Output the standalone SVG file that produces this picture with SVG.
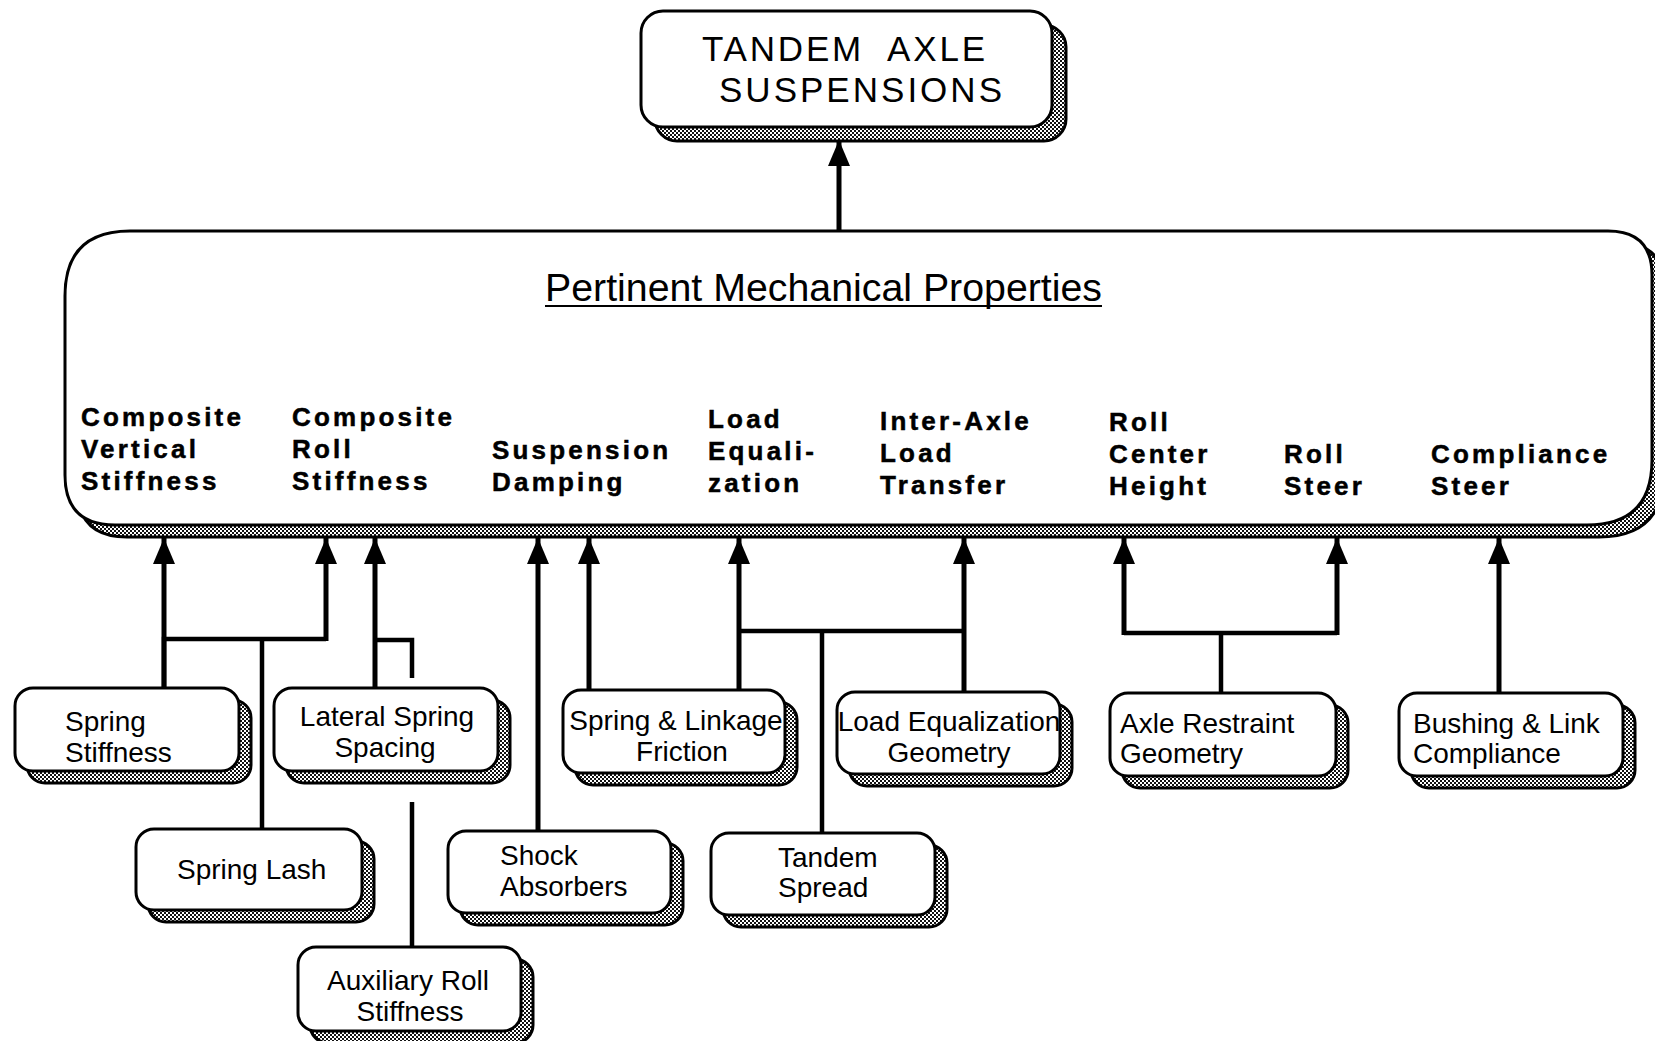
<svg xmlns="http://www.w3.org/2000/svg" width="1655" height="1041" viewBox="0 0 1655 1041">
<defs>
<pattern id="dither" width="4" height="4" patternUnits="userSpaceOnUse"><rect width="4" height="4" fill="#fff"/><rect width="2" height="2" fill="#111"/><rect x="2" y="2" width="2" height="2" fill="#111"/></pattern>
<marker id="arr" markerUnits="userSpaceOnUse" markerWidth="28" markerHeight="24" refX="26" refY="11" orient="auto"><path d="M0,0 L26,11 L0,22 z" fill="#000"/></marker>
</defs>
<style>
.sh{fill:url(#dither);stroke:#000;stroke-width:3}
.fr{fill:#fff;stroke:#000;stroke-width:3}
.t{font-family:"Liberation Sans",Arial,sans-serif;font-size:28px;fill:#000}
.c{text-anchor:middle}
.lb{font-family:"Liberation Sans",Arial,sans-serif;font-size:26px;font-weight:bold;letter-spacing:3.2px;fill:#000;stroke:#000;stroke-width:0.5}
.ln{fill:none;stroke:#000;stroke-width:4.5;stroke-linecap:butt}
.ar{fill:none;stroke:#000;stroke-width:5;marker-end:url(#arr)}
</style>
<rect width="1655" height="1041" fill="#fff"/>

<g id="tandem-axle-suspensions">
<rect class="sh" x="655" y="25" width="411" height="116" rx="22"/>
<rect class="fr" x="641" y="11" width="411" height="116" rx="22"/>
<text class="t" x="702" y="61" style="font-size:35px" textLength="283" lengthAdjust="spacing" xml:space="preserve">TANDEM  AXLE</text>
<text class="t" x="719" y="102" style="font-size:35px" textLength="283" lengthAdjust="spacing">SUSPENSIONS</text>
</g>

<g id="pertinent-mechanical-properties">
<path class="sh" d="M142,243 H1620 Q1664,243 1664,287 V472 Q1664,537 1599,537 H127 Q77,537 77,487 V308 Q77,243 142,243 Z"/>
<path class="fr" d="M130,231 H1608 Q1652,231 1652,275 V460 Q1652,525 1587,525 H115 Q65,525 65,475 V296 Q65,231 130,231 Z"/>
<text class="t" x="545" y="301" style="font-size:38px" textLength="557" lengthAdjust="spacingAndGlyphs">Pertinent Mechanical Properties</text>
<line x1="545" y1="306" x2="1102" y2="306" stroke="#000" stroke-width="2"/>
<text class="lb" x="81" y="426">Composite</text>
<text class="lb" x="81" y="458">Vertical</text>
<text class="lb" x="81" y="490">Stiffness</text>
<text class="lb" x="292" y="426">Composite</text>
<text class="lb" x="292" y="458">Roll</text>
<text class="lb" x="292" y="490">Stiffness</text>
<text class="lb" x="492" y="459">Suspension</text>
<text class="lb" x="492" y="491">Damping</text>
<text class="lb" x="708" y="428">Load</text>
<text class="lb" x="708" y="460">Equali-</text>
<text class="lb" x="708" y="492">zation</text>
<text class="lb" x="880" y="430">Inter-Axle</text>
<text class="lb" x="880" y="462">Load</text>
<text class="lb" x="880" y="494">Transfer</text>
<text class="lb" x="1109" y="431">Roll</text>
<text class="lb" x="1109" y="463">Center</text>
<text class="lb" x="1109" y="495">Height</text>
<text class="lb" x="1284" y="463">Roll</text>
<text class="lb" x="1284" y="495">Steer</text>
<text class="lb" x="1431" y="463">Compliance</text>
<text class="lb" x="1431" y="495">Steer</text>
</g>

<g id="connectors">
<line class="ar" x1="839" y1="231" x2="839" y2="140"/>
<polyline class="ln" points="164,688 164,639 326,639"/>
<line class="ar" x1="164" y1="690" x2="164" y2="538"/>
<line class="ar" x1="326" y1="641" x2="326" y2="538"/>
<line class="ln" x1="262" y1="639" x2="262" y2="829"/>
<line class="ar" x1="375" y1="688" x2="375" y2="538"/>
<polyline class="ln" points="375,640 412,640 412,678"/>
<line class="ln" x1="412" y1="802" x2="412" y2="947"/>
<line class="ar" x1="538" y1="831" x2="538" y2="538"/>
<line class="ar" x1="589" y1="690" x2="589" y2="538"/>
<line class="ar" x1="739" y1="690" x2="739" y2="538"/>
<polyline class="ln" points="739,631 964,631"/>
<line class="ar" x1="964" y1="692" x2="964" y2="538"/>
<line class="ln" x1="822" y1="631" x2="822" y2="833"/>
<line class="ln" x1="1221" y1="693" x2="1221" y2="633"/>
<polyline class="ln" points="1124,633 1337,633"/>
<line class="ar" x1="1124" y1="635" x2="1124" y2="538"/>
<line class="ar" x1="1337" y1="635" x2="1337" y2="538"/>
<line class="ar" x1="1499" y1="693" x2="1499" y2="538"/>
</g>

<g id="spring-stiffness">
<rect class="sh" x="27" y="700" width="224" height="83" rx="18"/>
<rect class="fr" x="15" y="688" width="224" height="83" rx="18"/>
<text class="t" x="65" y="731">Spring</text>
<text class="t" x="65" y="762">Stiffness</text>
</g>

<g id="lateral-spring-spacing">
<rect class="sh" x="286" y="700" width="224" height="83" rx="18"/>
<rect class="fr" x="274" y="688" width="224" height="83" rx="18"/>
<text class="t c" x="387" y="726">Lateral Spring</text>
<text class="t c" x="385" y="757">Spacing</text>
</g>

<g id="spring-lash">
<rect class="sh" x="148" y="841" width="226" height="81" rx="18"/>
<rect class="fr" x="136" y="829" width="226" height="81" rx="18"/>
<text class="t" x="177" y="879">Spring Lash</text>
</g>

<g id="auxiliary-roll-stiffness">
<rect class="sh" x="310" y="959" width="223" height="84" rx="18"/>
<rect class="fr" x="298" y="947" width="223" height="84" rx="18"/>
<text class="t c" x="408" y="990">Auxiliary Roll</text>
<text class="t c" x="410" y="1021">Stiffness</text>
</g>

<g id="shock-absorbers">
<rect class="sh" x="460" y="843" width="223" height="82" rx="18"/>
<rect class="fr" x="448" y="831" width="223" height="82" rx="18"/>
<text class="t" x="500" y="865">Shock</text>
<text class="t" x="500" y="896">Absorbers</text>
</g>

<g id="spring-linkage-friction">
<rect class="sh" x="575" y="702" width="222" height="83" rx="18"/>
<rect class="fr" x="563" y="690" width="222" height="83" rx="18"/>
<text class="t c" x="676" y="730">Spring &amp; Linkage</text>
<text class="t c" x="682" y="761">Friction</text>
</g>

<g id="load-equalization-geometry">
<rect class="sh" x="849" y="704" width="223" height="82" rx="18"/>
<rect class="fr" x="837" y="692" width="223" height="82" rx="18"/>
<text class="t c" x="949" y="731">Load Equalization</text>
<text class="t c" x="949" y="762">Geometry</text>
</g>

<g id="tandem-spread">
<rect class="sh" x="723" y="845" width="224" height="82" rx="18"/>
<rect class="fr" x="711" y="833" width="224" height="82" rx="18"/>
<text class="t" x="778" y="867">Tandem</text>
<text class="t" x="778" y="897">Spread</text>
</g>

<g id="axle-restraint-geometry">
<rect class="sh" x="1122" y="705" width="226" height="83" rx="18"/>
<rect class="fr" x="1110" y="693" width="226" height="83" rx="18"/>
<text class="t" x="1120" y="733">Axle Restraint</text>
<text class="t" x="1120" y="763">Geometry</text>
</g>

<g id="bushing-link-compliance">
<rect class="sh" x="1411" y="705" width="224" height="83" rx="18"/>
<rect class="fr" x="1399" y="693" width="224" height="83" rx="18"/>
<text class="t" x="1413" y="733">Bushing &amp; Link</text>
<text class="t" x="1413" y="763">Compliance</text>
</g>
</svg>
